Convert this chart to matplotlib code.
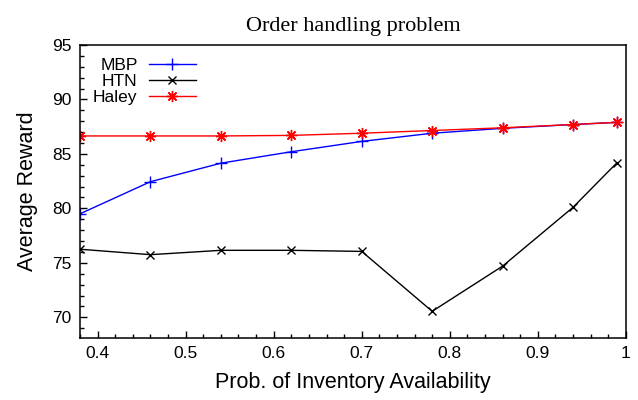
import numpy as np
import matplotlib
matplotlib.use('Agg')
import matplotlib.pyplot as plt
from matplotlib.ticker import MultipleLocator

plt.rcParams['font.family'] = ['Liberation Sans', 'DejaVu Sans']

# data
prob = [0.38, 0.46, 0.54, 0.62, 0.70, 0.78, 0.86, 0.94, 0.99]
mbp = [79.5, 82.45, 84.15, 85.2, 86.15, 86.9, 87.35, 87.7, 87.9]
htn = [76.25, 75.75, 76.15, 76.15, 76.05, 70.55, 74.7, 80.1, 84.2]
haley = [86.65, 86.65, 86.65, 86.7, 86.9, 87.15, 87.4, 87.7, 87.9]

xticks = [0.4, 0.5, 0.6, 0.7, 0.8, 0.9, 1.0]
xticklabels = ['0.4', '0.5', '0.6', '0.7', '0.8', '0.9', '1']
yticks = [70, 75, 80, 85, 90, 95]

fig = plt.figure(figsize=(6.38, 4.0), dpi=100)
ax = fig.add_axes([0.1254, 0.155, 0.8556, 0.7325])

ax.plot(prob, mbp, color='#0000ff', lw=1.0, marker='+', ms=8, mew=1.0, label='MBP')
ax.plot(prob, htn, color='black', lw=1.0, marker='x', ms=6, mew=1.0, label='HTN')
ax.plot(prob, haley, color='#ff0000', lw=1.0, marker=(8, 2, 0), ms=8, mew=1.0, label='Haley')

ax.set_xlim(0.38, 1.0)
ax.set_ylim(68.1, 95)
ax.set_xticks(xticks)
ax.set_xticklabels(xticklabels)
ax.set_yticks(yticks)
ax.xaxis.set_minor_locator(MultipleLocator(0.02))
ax.yaxis.set_minor_locator(MultipleLocator(1))
ax.tick_params(which='both', direction='in', top=False, right=False, labelsize=12.5, width=1.0)
ax.tick_params(which='major', length=5, pad=6)
ax.tick_params(which='minor', length=3)
for s in ax.spines.values():
    s.set_linewidth(1.1)

ax.set_xlabel('Prob. of Inventory Availability', fontsize=15.5, labelpad=8)
ax.set_ylabel('Average Reward', fontsize=15.5, labelpad=10)
ax.set_title('Order handling problem', fontsize=16, family=['Liberation Serif', 'DejaVu Serif'], pad=10)

ax.legend(loc='upper left', frameon=False, markerfirst=False, fontsize=12.5,
          handlelength=2.7, handletextpad=0.65, labelspacing=0.05,
          bbox_to_anchor=(0.0, 1.0), borderaxespad=0.35)

fig.savefig('out.png', dpi=100)
